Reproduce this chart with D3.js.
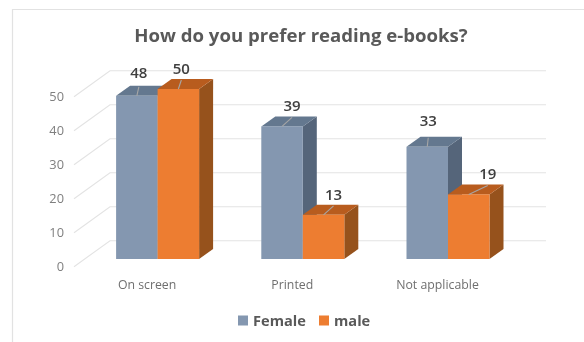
<!DOCTYPE html>
<html><head><meta charset="utf-8">
<script src="https://cdn.jsdelivr.net/npm/d3@7"></script>
<style>html,body{margin:0;padding:0;background:#fff}svg{display:block;filter:blur(0.35px)}</style>
</head><body><svg id="c" width="584" height="342"></svg>
<script>
const categories = ["On screen", "Printed", "Not applicable"];
const seriesNames = ["Female", "male"];
const female = [48, 39, 33];
const male = [50, 13, 19];
const tickValues = [0, 10, 20, 30, 40, 50];
const titleText = "How do you prefer reading e-books?";
const colors = {Female:{front:"#8497b0",top:"#64788f",side:"#55657a"}, male:{front:"#ed7d31",top:"#b85c1e",side:"#96521c"}};
const labelShift = {Female:[[2,-23],[10,-21],[1,-26]], male:[[3,-21],[10,-20],[19,-21]]};

const font = "'Open Sans','Noto Sans',sans-serif";
const svg = d3.select("#c");
const y = d3.scaleLinear().domain([0,50]).range([259,89]);
const x0 = d3.scaleBand().domain(categories).range([85,520.6]);
const x1 = d3.scaleBand().domain(seriesNames).range([-41.5,41.5]);
const dx = 14, dy = -10;          // bar depth
const wx = 36, wy = -26;          // back wall offset
const wallRight = 546;

// frame
svg.append("path").attr("d","M12.5,342V9.5H584").attr("fill","none").attr("stroke","#e2e2e2").attr("stroke-width",1.2);

// title
svg.append("text").attr("x",301).attr("y",41.5).attr("text-anchor","middle")
  .attr("font-family",font).attr("font-weight",700).attr("font-size",18.6).attr("fill","#595959").text(titleText);

// gridlines
const grid = svg.append("g").attr("fill","none").attr("stroke","#e3e3e3").attr("stroke-width",1.1);
tickValues.forEach(t=>{
  const yy = y(t)+7.7;
  grid.append("path").attr("d",`M${110-wx},${yy}l${wx},${wy}H${wallRight}`);
});
// tick labels
svg.append("g").selectAll("text").data(tickValues).join("text")
  .attr("x",64).attr("y",t=>y(t)+12).attr("text-anchor","end")
  .attr("font-family",font).attr("font-size",12.8).attr("fill","#7f7f7f").text(d=>d);

// bars
const rows = categories.map((c,i)=>seriesNames.map((s,j)=>({c,i,s,v:(s==="Female"?female:male)[i]})));
rows.forEach(pair=>{
  pair.forEach(d=>{
    const g = svg.append("g");
    const l = x0(d.c)+x0.bandwidth()/2+x1(d.s), r = l+x1.bandwidth(), t = y(d.v), b = y(0);
    const col = colors[d.s];
    g.append("path").attr("fill",col.side).attr("d",`M${r},${t}l${dx},${dy}V${b+dy}l${-dx},${-dy}Z`);
    g.append("path").attr("fill",col.top).attr("d",`M${l},${t}l${dx},${dy}H${r+dx}l${-dx},${-dy}Z`);
    g.append("rect").attr("x",l).attr("y",t).attr("width",r-l).attr("height",b-t).attr("fill",col.front);
  });
});
// leader lines and labels
rows.flat().forEach(d=>{
  const [sx,sy] = labelShift[d.s][d.i];
  const cx = x0(d.c)+x0.bandwidth()/2+x1(d.s)+x1.bandwidth()/2, t = y(d.v);
  svg.append("line").attr("x1",cx).attr("y1",t).attr("x2",cx+sx).attr("y2",t-9)
    .attr("stroke","#a6a6a6").attr("stroke-width",1.1);
  svg.append("text").attr("x",cx+sx).attr("y",t+sy+5.5).attr("text-anchor","middle")
    .attr("font-family",font).attr("font-weight",600).attr("font-size",15).attr("fill","#404040").text(d.v);
});
// category labels
svg.append("g").selectAll("text").data(categories).join("text")
  .attr("x",c=>x0(c)+x0.bandwidth()/2-10.5).attr("y",288.5).attr("text-anchor","middle")
  .attr("font-family",font).attr("font-size",12.3).attr("fill","#6f6f6f").text(d=>d);

// legend
const legX = d3.scaleOrdinal().domain(seriesNames).range([238,319]);
const leg = svg.append("g");
seriesNames.forEach(s=>{
  leg.append("rect").attr("x",legX(s)).attr("y",315.5).attr("width",10).attr("height",10).attr("fill",colors[s].front);
  leg.append("text").attr("x",legX(s)+15).attr("y",326).attr("font-family",font).attr("font-weight",700)
    .attr("font-size",14.6).attr("fill","#595959").text(s);
});
</script></body></html>
